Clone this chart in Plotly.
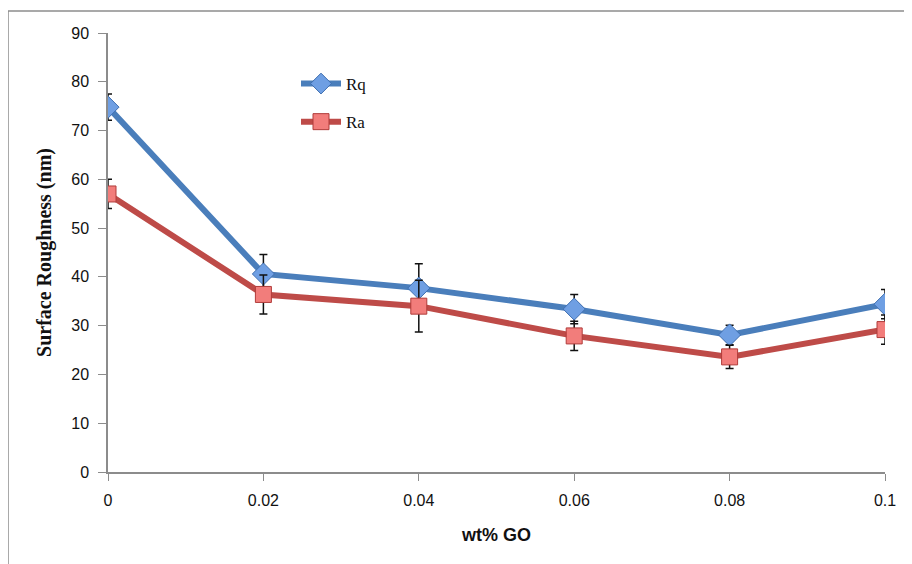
import plotly.graph_objects as go

wt_go = [0, 0.02, 0.04, 0.06, 0.08, 0.1]
rq = [74.8, 40.6, 37.7, 33.4, 28.1, 34.4]
rq_err = [2.7, 4.0, 5.0, 3.0, 2.0, 3.0]
ra = [57.0, 36.4, 34.0, 27.9, 23.6, 29.2]
ra_err = [3.0, 4.0, 5.3, 3.0, 2.4, 3.0]
x_ticks = [0, 0.02, 0.04, 0.06, 0.08, 0.1]
x_labels = ["0", "0.02", "0.04", "0.06", "0.08", "0.1"]
y_ticks = [0, 10, 20, 30, 40, 50, 60, 70, 80, 90]

# page body has an 8px margin, so the figure is drawn at (8, 8)
OFF = 8
W, H = 912 - OFF, 564 - OFF
L, R, T, B = 108 - OFF, 27, 33 - OFF, 92
pw, ph = W - L - R, H - T - B

def px(x):
    return (x - OFF - L) / pw

def py(y):
    return (H - B - (y - OFF)) / ph

SANS = "Liberation Sans Narrow, Arial Narrow, Liberation Sans, sans-serif"
SERIF = "Liberation Serif, DejaVu Serif, serif"

fig = go.Figure()
fig.add_trace(go.Scatter(
    x=wt_go, y=rq, name="Rq", mode="lines+markers", legendgroup="rq",
    line=dict(color="#4a7ebb", width=6),
    marker=dict(symbol="diamond", size=17, color="#6f9fe3",
                line=dict(color="#3f6fb0", width=1)),
    error_y=dict(type="data", array=rq_err, visible=True,
                 color="#111111", thickness=1.5, width=4),
))
fig.add_trace(go.Scatter(
    x=wt_go, y=ra, name="Ra", mode="lines+markers", legendgroup="ra",
    line=dict(color="#be4b48", width=6),
    marker=dict(symbol="square", size=16, color="#f27d7b",
                line=dict(color="#b03c3a", width=1)),
    error_y=dict(type="data", array=ra_err, visible=True,
                 color="#111111", thickness=1.5, width=4),
))

shapes = [
    dict(type="line", xref="paper", yref="paper", x0=px(8), x1=px(920),
         y0=py(11), y1=py(11), line=dict(color="#8c8c8c", width=1.5)),
    dict(type="line", xref="paper", yref="paper", x0=px(8), x1=px(8),
         y0=py(11), y1=py(570), line=dict(color="#8c8c8c", width=1.5)),
]

fig.update_layout(
    width=W, height=H,
    margin=dict(l=L, r=R, t=T, b=B),
    paper_bgcolor="white", plot_bgcolor="white",
    shapes=shapes,
    showlegend=True,
    legend=dict(x=px(296), y=py(66), xanchor="left", yanchor="top",
                bgcolor="rgba(0,0,0,0)", tracegroupgap=13,
                font=dict(family=SERIF, size=17, color="#111111"),
                itemwidth=40),
    xaxis=dict(range=[0, 0.1], tickvals=x_ticks, ticktext=x_labels,
               showgrid=False, zeroline=False, showline=True,
               linecolor="#8c8c8c", linewidth=1.5,
               ticks="outside", ticklen=7, tickcolor="#8c8c8c",
               ticklabelstandoff=6,
               tickfont=dict(family=SANS, size=16, color="#111111"),
               title=dict(text="<b>wt% GO</b>", standoff=20,
                          font=dict(family=SANS, size=18, color="#111111"))),
    yaxis=dict(range=[0, 90], tickvals=y_ticks,
               showgrid=False, zeroline=False, showline=True,
               linecolor="#8c8c8c", linewidth=1.5,
               ticks="outside", ticklen=8, tickcolor="#8c8c8c",
               ticklabelstandoff=6,
               tickfont=dict(family=SANS, size=16, color="#111111"),
               title=dict(text="<b>Surface Roughness (nm)</b>", standoff=14,
                          font=dict(family=SERIF, size=20, color="#111111"))),
)

fig.write_html("out.html")
